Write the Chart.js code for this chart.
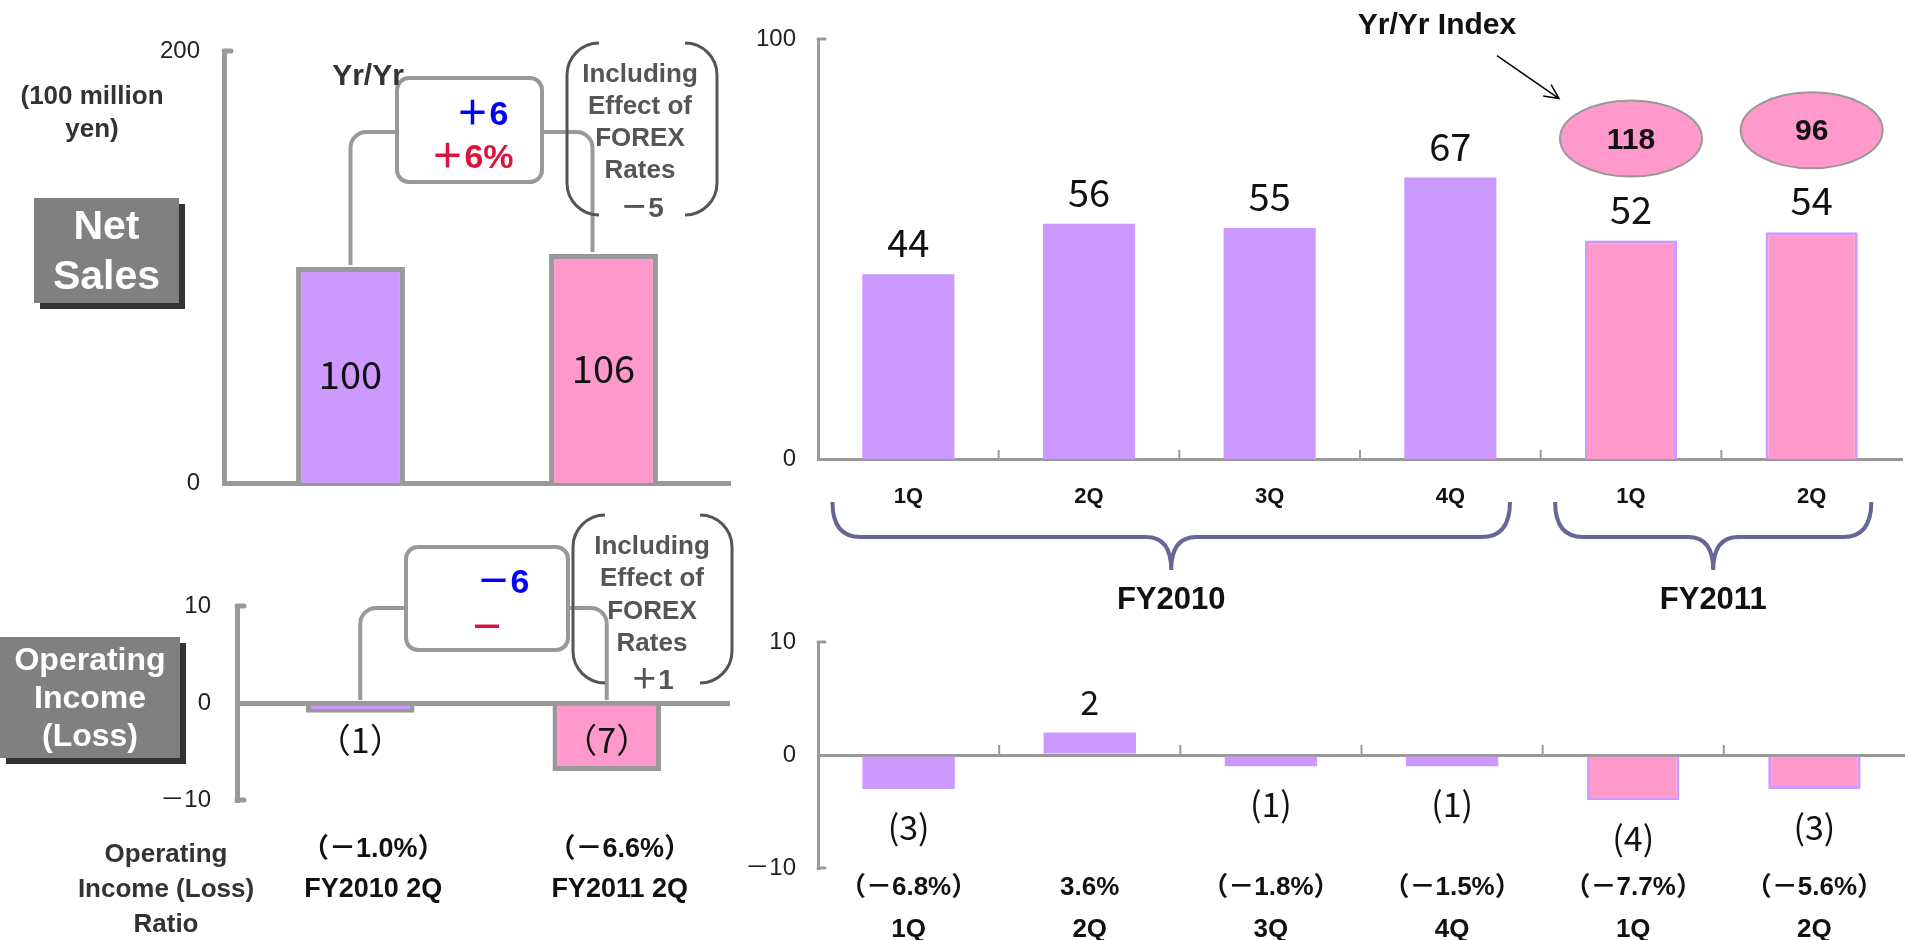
<!DOCTYPE html>
<html>
<head>
<meta charset="utf-8">
<title>Net Sales / Operating Income</title>
<script src="https://cdn.jsdelivr.net/npm/chart.js@4.4.1/dist/chart.umd.min.js"></script>
<style>
  body { margin: 0; width: 1909px; height: 940px; overflow: hidden; background: #fff; position: relative;
         font-family: 'Liberation Sans', 'Noto Sans CJK JP', Arial, sans-serif; }
  canvas { position: absolute; left: 0; top: 0; }
  .t { position: absolute; transform: translate(-50%, -50%); white-space: nowrap; font-weight: bold; z-index: 5; }
  .tag { position: absolute; box-sizing: border-box; background: #808080; color: #fff; font-weight: bold;
         text-align: center; box-shadow: 6px 6px 0 #333; z-index: 5; }
</style>
</head>
<body>
<canvas id="salesHalf" width="1909" height="940"></canvas>
<canvas id="incomeHalf" width="1909" height="940"></canvas>
<canvas id="salesQuarter" width="1909" height="940"></canvas>
<canvas id="incomeQuarter" width="1909" height="940"></canvas>

<div class="t" style="left:92px;top:95px;font-size:26px;color:#333">(100 million</div>
<div class="t" style="left:92px;top:128px;font-size:26px;color:#333">yen)</div>
<div class="tag" style="left:34px;top:198px;width:145px;height:105px;padding-top:2px;font-size:41px;line-height:50px">Net<br>Sales</div>
<div class="tag" style="left:0;top:637px;width:180px;height:121px;padding-top:3px;font-size:32px;line-height:38px">Operating<br>Income<br>(Loss)</div>

<div class="t" style="left:368px;top:75px;font-size:30px;color:#333">Yr/Yr</div>
<div class="t" style="left:482px;top:110px;font-size:34px;color:#0000ff">＋6</div>
<div class="t" style="left:472px;top:153px;font-size:34px;color:#dc143c">＋6%</div>
<div class="t" style="left:640px;top:73px;font-size:26px;color:#555">Including</div>
<div class="t" style="left:640px;top:105px;font-size:26px;color:#555">Effect of</div>
<div class="t" style="left:640px;top:137px;font-size:26px;color:#555">FOREX</div>
<div class="t" style="left:640px;top:169px;font-size:26px;color:#555">Rates</div>
<div class="t" style="left:642px;top:205px;font-size:28px;color:#555">－5</div>

<div class="t" style="left:503px;top:578px;font-size:34px;color:#0000ff">－6</div>
<div class="t" style="left:487px;top:624px;font-size:34px;color:#dc143c">－</div>
<div class="t" style="left:652px;top:545px;font-size:26px;color:#555">Including</div>
<div class="t" style="left:652px;top:577px;font-size:26px;color:#555">Effect of</div>
<div class="t" style="left:652px;top:610px;font-size:26px;color:#555">FOREX</div>
<div class="t" style="left:652px;top:642px;font-size:26px;color:#555">Rates</div>
<div class="t" style="left:652px;top:677px;font-size:28px;color:#555">＋1</div>

<div class="t" style="left:166px;top:853px;font-size:26px;color:#333">Operating</div>
<div class="t" style="left:166px;top:888px;font-size:26px;color:#333">Income (Loss)</div>
<div class="t" style="left:166px;top:923px;font-size:26px;color:#333">Ratio</div>

<div class="t" style="left:1437px;top:24px;font-size:30px;color:#111">Yr/Yr Index</div>

<script>
// values (100 million yen)
const halfLabels = ['FY2010 2Q', 'FY2011 2Q'];
const halfRatios = ['（－1.0%）', '（－6.6%）'];
const halfSales = [100, 106];
const halfIncome = [-1, -7];

const quarters = ['1Q', '2Q', '3Q', '4Q', '1Q', '2Q'];
const quarterYears = ['FY2010', 'FY2010', 'FY2010', 'FY2010', 'FY2011', 'FY2011'];
const quarterSales = [44, 56, 55, 67, 52, 54];
const quarterIncome = [-3, 2, -1, -1, -4, -3];
const quarterRatios = ['（－6.8%）', '3.6%', '（－1.8%）', '（－1.5%）', '（－7.7%）', '（－5.6%）'];
const yrYrIndex = [null, null, null, null, 118, 96];

const salesHalfTicks = [0, 200];
const salesQuarterTicks = [0, 100];
const incomeTicks = [-10, 0, 10];

const FONT = "'Liberation Sans', 'Noto Sans CJK JP', Arial, sans-serif";
const NUM = "'Noto Sans CJK JP', 'Liberation Sans', sans-serif";
const PURPLE = '#cc99ff';
const PINK = '#ff99cc';
const AXIS = '#999999';
const W = 1909, H = 940;

Chart.defaults.font.family = FONT;

// place the plot area at fixed page coordinates
function area(l, t, r, b, yw, xh) {
  return { left: l - yw, top: t, right: W - r, bottom: H - b - xh };
}
function tickFmt(v) {
  return v < 0 ? '－' + Math.abs(v) : String(v);
}
function yearColor(y) {
  return y === 'FY2010' ? PURPLE : PINK;
}

function elbow(ctx, x, y0, yTop, xEnd, r) {
  const dir = xEnd > x ? 1 : -1;
  ctx.beginPath();
  ctx.moveTo(x, y0);
  ctx.lineTo(x, yTop + r);
  ctx.arcTo(x, yTop, x + dir * r, yTop, r);
  ctx.lineTo(xEnd, yTop);
  ctx.stroke();
}
function roundBox(ctx, x, y, w, h, r) {
  ctx.beginPath();
  ctx.moveTo(x + r, y);
  ctx.arcTo(x + w, y, x + w, y + h, r);
  ctx.arcTo(x + w, y + h, x, y + h, r);
  ctx.arcTo(x, y + h, x, y, r);
  ctx.arcTo(x, y, x + w, y, r);
  ctx.closePath();
  ctx.fillStyle = '#fff';
  ctx.fill();
  ctx.stroke();
}
function parenBox(ctx, l, t, r, b, rad) {
  ctx.save();
  ctx.strokeStyle = '#555';
  ctx.lineWidth = 3;
  ctx.beginPath();
  ctx.moveTo(l + rad, t);
  ctx.arcTo(l, t, l, t + rad, rad);
  ctx.lineTo(l, b - rad);
  ctx.arcTo(l, b, l + rad, b, rad);
  ctx.moveTo(r - rad, t);
  ctx.arcTo(r, t, r, t + rad, rad);
  ctx.lineTo(r, b - rad);
  ctx.arcTo(r, b, r - rad, b, rad);
  ctx.stroke();
  ctx.restore();
}
function yNubs(chart, lw) {
  const ctx = chart.ctx, y = chart.scales.y, x0 = chart.chartArea.left;
  ctx.save();
  ctx.strokeStyle = AXIS;
  ctx.lineWidth = lw;
  ctx.lineCap = 'round';
  y.ticks.forEach(t => {
    if (t.value === 0) return;
    const py = y.getPixelForValue(t.value);
    ctx.beginPath();
    ctx.moveTo(x0, py);
    ctx.lineTo(x0 + 7, py);
    ctx.stroke();
  });
  ctx.restore();
}
function catTicks(chart, len) {
  const ctx = chart.ctx, xs = chart.scales.x, y0 = chart.scales.y.getPixelForValue(0);
  ctx.save();
  ctx.strokeStyle = AXIS;
  ctx.lineWidth = 2;
  for (let i = 1; i < xs.ticks.length; i++) {
    const x = (xs.getPixelForValue(i - 1) + xs.getPixelForValue(i)) / 2;
    ctx.beginPath();
    ctx.moveTo(x, y0 - len);
    ctx.lineTo(x, y0 + 1);
    ctx.stroke();
  }
  ctx.restore();
}

const salesHalfDecor = {
  id: 'salesHalfDecor',
  afterDatasetsDraw(chart) {
    const ctx = chart.ctx, bars = chart.getDatasetMeta(0).data;
    ctx.save();
    ctx.strokeStyle = AXIS;
    ctx.lineWidth = 4;
    elbow(ctx, bars[0].x, bars[0].y - 2, 132, 400, 16);
    elbow(ctx, bars[1].x - 11, bars[1].y - 2, 132, 540, 16);
    roundBox(ctx, 397, 78, 145, 104, 12);
    parenBox(ctx, 567, 43, 717, 215, 32);
    ctx.fillStyle = '#111';
    ctx.font = '38px ' + NUM;
    ctx.textAlign = 'center';
    ctx.textBaseline = 'middle';
    bars.forEach((b, i) => ctx.fillText(String(halfSales[i]), b.x, (b.y + b.base) / 2));
    ctx.restore();
    yNubs(chart, 5);
  }
};

const incomeHalfDecor = {
  id: 'incomeHalfDecor',
  afterDatasetsDraw(chart) {
    const ctx = chart.ctx, bars = chart.getDatasetMeta(0).data;
    const y0 = chart.scales.y.getPixelForValue(0);
    ctx.save();
    ctx.strokeStyle = AXIS;
    ctx.lineWidth = 4;
    elbow(ctx, bars[0].x, y0 - 3, 608, 408, 16);
    elbow(ctx, bars[1].x, y0 - 3, 608, 566, 16);
    roundBox(ctx, 406, 547, 162, 103, 12);
    parenBox(ctx, 573, 515, 732, 683, 32);
    ctx.fillStyle = '#111';
    ctx.font = '34px ' + NUM;
    ctx.textAlign = 'center';
    ctx.textBaseline = 'middle';
    bars.forEach((b, i) => {
      const v = halfIncome[i];
      ctx.fillText(v < 0 ? '（' + (-v) + '）' : String(v), b.x, y0 + 37);
    });
    ctx.restore();
    yNubs(chart, 5);
  }
};

const salesQuarterDecor = {
  id: 'salesQuarterDecor',
  afterDatasetsDraw(chart) {
    const ctx = chart.ctx, bars = chart.getDatasetMeta(0).data, xs = chart.scales.x;
    const bottom = chart.chartArea.bottom;
    ctx.save();
    // value labels
    ctx.fillStyle = '#111';
    ctx.font = '38px ' + NUM;
    ctx.textAlign = 'center';
    ctx.textBaseline = 'alphabetic';
    bars.forEach((b, i) => ctx.fillText(String(quarterSales[i]), b.x, b.y - 17));

    // Yr/Yr index bubbles
    let first = null;
    bars.forEach((b, i) => {
      if (yrYrIndex[i] == null) return;
      const cx = b.x, cy = b.y - 102;
      if (!first) first = { cx, cy };
      ctx.beginPath();
      ctx.ellipse(cx, cy, 71, 38, 0, 0, Math.PI * 2);
      ctx.fillStyle = PINK;
      ctx.fill();
      ctx.strokeStyle = '#999';
      ctx.lineWidth = 2;
      ctx.stroke();
      ctx.fillStyle = '#111';
      ctx.font = 'bold 30px ' + FONT;
      ctx.textBaseline = 'middle';
      ctx.fillText(String(yrYrIndex[i]), cx, cy + 2);
    });
    if (first) {
      const tx = first.cx - 72, ty = first.cy - 40, sx = tx - 62, sy = ty - 43;
      const a = Math.atan2(ty - sy, tx - sx);
      ctx.strokeStyle = '#000';
      ctx.lineWidth = 1.5;
      ctx.beginPath();
      ctx.moveTo(sx, sy);
      ctx.lineTo(tx, ty);
      ctx.moveTo(tx - 16 * Math.cos(a - 0.45), ty - 16 * Math.sin(a - 0.45));
      ctx.lineTo(tx, ty);
      ctx.lineTo(tx - 16 * Math.cos(a + 0.45), ty - 16 * Math.sin(a + 0.45));
      ctx.stroke();
    }

    // fiscal year braces
    const cw = xs.getPixelForValue(1) - xs.getPixelForValue(0);
    const yTop = bottom + 43, yMid = bottom + 78, yTip = bottom + 111;
    [...new Set(quarterYears)].forEach(fy => {
      const x1 = xs.getPixelForValue(quarterYears.indexOf(fy)) - 0.42 * cw;
      const x2 = xs.getPixelForValue(quarterYears.lastIndexOf(fy)) + 0.33 * cw;
      const xm = (x1 + x2) / 2;
      ctx.strokeStyle = '#666699';
      ctx.lineWidth = 4;
      ctx.beginPath();
      ctx.moveTo(x1, yTop);
      ctx.quadraticCurveTo(x1, yMid, x1 + 28, yMid);
      ctx.lineTo(xm - 25, yMid);
      ctx.quadraticCurveTo(xm, yMid, xm, yTip);
      ctx.quadraticCurveTo(xm, yMid, xm + 25, yMid);
      ctx.lineTo(x2 - 28, yMid);
      ctx.quadraticCurveTo(x2, yMid, x2, yTop);
      ctx.stroke();
      ctx.fillStyle = '#111';
      ctx.font = 'bold 31px ' + FONT;
      ctx.textBaseline = 'middle';
      ctx.fillText(fy, xm, bottom + 141);
    });
    ctx.restore();
    catTicks(chart, 9);
    yNubs(chart, 3);
  }
};

const incomeQuarterDecor = {
  id: 'incomeQuarterDecor',
  afterDatasetsDraw(chart) {
    const ctx = chart.ctx, bars = chart.getDatasetMeta(0).data;
    ctx.save();
    ctx.fillStyle = '#111';
    ctx.font = '34px ' + NUM;
    ctx.textAlign = 'center';
    bars.forEach((b, i) => {
      const v = quarterIncome[i];
      if (v >= 0) {
        ctx.textBaseline = 'alphabetic';
        ctx.fillText(String(v), b.x, b.y - 17);
      } else {
        ctx.textBaseline = 'middle';
        ctx.fillText('(' + (-v) + ')', b.x, b.y + 38);
      }
    });
    ctx.restore();
    catTicks(chart, 10);
    yNubs(chart, 3);
  }
};

const quiet = {
  responsive: false,
  animation: false,
  events: []
};
const noLegend = { legend: { display: false }, tooltip: { enabled: false } };

// top left: net sales, half year
new Chart(document.getElementById('salesHalf'), {
  type: 'bar',
  data: {
    labels: halfLabels,
    datasets: [{
      data: halfSales,
      backgroundColor: [PURPLE, PINK],
      borderColor: AXIS,
      borderWidth: 5,
      barPercentage: 0.43,
      categoryPercentage: 1
    }]
  },
  options: {
    ...quiet,
    layout: { padding: area(224, 51, 730, 483, 90, 0) },
    plugins: noLegend,
    scales: {
      x: {
        grid: { display: false, drawTicks: false },
        ticks: { display: false },
        border: { color: AXIS, width: 5 },
        afterFit: s => { s.height = 0; }
      },
      y: {
        min: 0, max: 200,
        afterBuildTicks: s => { s.ticks = salesHalfTicks.map(v => ({ value: v })); },
        ticks: { padding: 24, color: '#222', font: { size: 24 }, callback: tickFmt },
        grid: { display: false, drawTicks: false },
        border: { color: AXIS, width: 5 },
        afterFit: s => { s.width = 90; }
      }
    }
  },
  plugins: [salesHalfDecor]
});

// bottom left: operating income, half year
new Chart(document.getElementById('incomeHalf'), {
  type: 'bar',
  data: {
    labels: halfLabels.map((l, i) => [halfRatios[i], l]),
    datasets: [{
      data: halfIncome,
      backgroundColor: [PURPLE, PINK],
      borderColor: AXIS,
      borderWidth: 5,
      barPercentage: 0.44,
      categoryPercentage: 1
    }]
  },
  options: {
    ...quiet,
    layout: { padding: area(237, 606, 730, 800, 90, 140) },
    plugins: noLegend,
    scales: {
      x: {
        grid: { display: false, drawTicks: false },
        border: { display: false },
        ticks: { padding: 30, labelOffset: 13, color: '#111', maxRotation: 0, autoSkip: false,
                 font: { size: 27, weight: 'bold', lineHeight: 1.48 } },
        afterFit: s => { s.height = 140; }
      },
      y: {
        min: -10, max: 10,
        afterBuildTicks: s => { s.ticks = incomeTicks.map(v => ({ value: v })); },
        ticks: { padding: 26, color: '#222', font: { size: 24 }, callback: tickFmt },
        grid: { drawTicks: false, lineWidth: 5,
                color: c => c.tick && c.tick.value === 0 ? AXIS : 'rgba(0,0,0,0)' },
        border: { color: AXIS, width: 5 },
        afterFit: s => { s.width = 90; }
      }
    }
  },
  plugins: [incomeHalfDecor]
});

// top right: net sales by quarter
new Chart(document.getElementById('salesQuarter'), {
  type: 'bar',
  data: {
    labels: quarters,
    datasets: [{
      data: quarterSales,
      backgroundColor: quarterYears.map(yearColor),
      borderColor: PURPLE,
      borderWidth: quarterYears.map(y => y === 'FY2010' ? 0 : 3),
      barPercentage: 0.51,
      categoryPercentage: 1
    }]
  },
  options: {
    ...quiet,
    layout: { padding: area(818, 39, 1902, 459, 90, 80) },
    plugins: noLegend,
    scales: {
      x: {
        grid: { display: false, drawTicks: false },
        border: { color: AXIS, width: 3 },
        ticks: { padding: 25, color: '#111', maxRotation: 0, autoSkip: false,
                 font: { size: 22, weight: 'bold' } },
        afterFit: s => { s.height = 80; }
      },
      y: {
        min: 0, max: 100,
        afterBuildTicks: s => { s.ticks = salesQuarterTicks.map(v => ({ value: v })); },
        ticks: { padding: 22, color: '#222', font: { size: 24 }, callback: tickFmt },
        grid: { display: false, drawTicks: false },
        border: { color: AXIS, width: 3 },
        afterFit: s => { s.width = 90; }
      }
    }
  },
  plugins: [salesQuarterDecor]
});

// bottom right: operating income by quarter
new Chart(document.getElementById('incomeQuarter'), {
  type: 'bar',
  data: {
    labels: quarters.map((q, i) => [quarterRatios[i], q]),
    datasets: [{
      data: quarterIncome,
      backgroundColor: quarterYears.map(yearColor),
      borderColor: PURPLE,
      borderWidth: quarterYears.map(y => y === 'FY2010' ? 0 : 3),
      barPercentage: 0.51,
      categoryPercentage: 1
    }]
  },
  options: {
    ...quiet,
    layout: { padding: area(818, 642, 1905, 868, 90, 72) },
    plugins: noLegend,
    scales: {
      x: {
        grid: { display: false, drawTicks: false },
        border: { display: false },
        ticks: { padding: -1, color: '#111', maxRotation: 0, autoSkip: false,
                 font: { size: 26, weight: 'bold', lineHeight: 1.6 } },
        afterFit: s => { s.height = 72; }
      },
      y: {
        min: -10, max: 10,
        afterBuildTicks: s => { s.ticks = incomeTicks.map(v => ({ value: v })); },
        ticks: { padding: 22, color: '#222', font: { size: 24 }, callback: tickFmt },
        grid: { drawTicks: false, lineWidth: 3,
                color: c => c.tick && c.tick.value === 0 ? AXIS : 'rgba(0,0,0,0)' },
        border: { color: AXIS, width: 3 },
        afterFit: s => { s.width = 90; }
      }
    }
  },
  plugins: [incomeQuarterDecor]
});
</script>
</body>
</html>
